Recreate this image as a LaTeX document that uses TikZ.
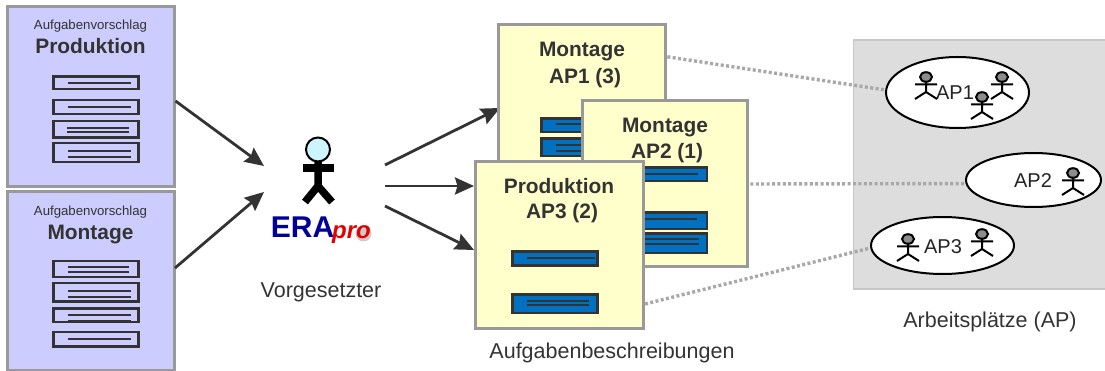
\documentclass[tikz,border=0pt]{standalone}
\usepackage{fontspec}
\setmainfont{Liberation Sans}
\usetikzlibrary{arrows.meta,shapes.geometric}
\definecolor{txt}{HTML}{333333}
\definecolor{edge}{HTML}{999999}
\definecolor{lilac}{HTML}{CCCCFF}
\definecolor{cream}{HTML}{FFFFCC}
\definecolor{barblue}{HTML}{0070C0}
\definecolor{panel}{HTML}{DDDDDD}
\tikzset{
  card/.style={draw=edge,line width=3pt,rectangle,inner sep=0pt},
  lilaccard/.style={card,fill=lilac},
  creamcard/.style={card,fill=cream},
  rowbox/.style={draw=txt,line width=2.6pt},
  rowline/.style={draw=txt,line width=2pt},
  bluebox/.style={draw=txt,line width=2.6pt,fill=barblue},
  flow/.style={draw=txt,line width=2.8pt,-{Stealth[length=19pt,width=17pt,inset=2.5pt]}},
  link/.style={draw=edge!85,line width=3.4pt,dash pattern=on 3pt off 2.4pt},
  small/.style={anchor=base,inner sep=0pt,text=txt,font=\fontsize{13.2}{15}\selectfont},
  head/.style={anchor=base,inner sep=0pt,text=txt,align=center,font=\fontsize{20.9}{24}\selectfont\bfseries},
  label/.style={anchor=base,inner sep=0pt,text=txt,font=\fontsize{21.5}{24}\selectfont},
  place/.style={draw=black,line width=2pt,fill=white,ellipse,inner sep=0pt},
  aplabel/.style={anchor=base,inner sep=0pt,text=txt!70!black,font=\fontsize{20}{24}\selectfont},
  actor/.pic={
    \draw[black,line width=2pt,fill=gray!90] (0,0) ellipse (6pt and 4.8pt);
    \draw[black,line width=2pt] (-11,7.3) -- (11,7.3) (0,4.5) -- (0,15) (-11,22) -- (0,15) -- (11,22);
  }
}
\begin{document}
\begin{tikzpicture}[x=1pt,y=-1pt]
\useasboundingbox (0,0) rectangle (1105,371);

% left cards
\node[lilaccard,minimum width=167pt,minimum height=180pt] (prod) at (91,96.5) {};
\node[small] (prodA) at (90.5,30) {Aufgabenvorschlag};
\node[head] (prodB) at (90.5,54) {Produktion};
\draw[rowbox] (53.5,76.5) rectangle (138.5,89); \draw[rowline] (68,83) -- (131,83);
\draw[rowbox] (53.5,100) rectangle (138.5,114); \draw[rowline] (68,107) -- (131,107);
\draw[rowbox] (53.5,121) rectangle (138.5,137.5); \draw[rowline] (67,127.7) -- (129,127.7) (67,132) -- (129,132);
\draw[rowbox] (53.5,143) rectangle (138.5,162); \draw[rowline] (68,151) -- (131,151) (68,157) -- (131,157);

\node[lilaccard,minimum width=167pt,minimum height=178pt] (mont) at (91,281) {};
\node[small] (montA) at (90.5,216) {Aufgabenvorschlag};
\node[head] (montB) at (90.5,240) {Montage};
\draw[rowbox] (53.5,261) rectangle (138.5,277); \draw[rowline] (68,267) -- (129,267) (68,272) -- (129,272);
\draw[rowbox] (53.5,283) rectangle (138.5,301.5); \draw[rowline] (68,291) -- (131,291) (68,297) -- (131,297);
\draw[rowbox] (53.5,308.5) rectangle (138.5,322); \draw[rowline] (68,315) -- (131,315) (68,321) -- (131,321);
\draw[rowbox] (53.5,332) rectangle (138.5,346.5); \draw[rowline] (68,339) -- (131,339);

% supervisor
\draw[black,line width=2pt,fill=blue!20!cyan!20] (318,149.5) circle (12pt);
\fill[black] (303,164) rectangle (334,172);
\draw[black,line width=7.5pt] (318,161) -- (318,186) (305,202) -- (318,186) -- (332,202);
\fill[gray!40] (363.5,233.5) circle (8pt);
\node[anchor=base,inner sep=0pt,text=blue!60!black,font=\fontsize{30}{32}\selectfont\bfseries] (era) at (302.5,238) {ERA};
\node[anchor=base,inner sep=0pt,text=red!90!black,font=\fontsize{24}{26}\selectfont\bfseries\itshape] (pro) at (351.5,238.5) {pro};
\node[label] (sup) at (321,298) {Vorgesetzter};

% free arrow ends
\coordinate (in1) at (264,166);
\coordinate (in2) at (264,192);
\coordinate (out1) at (385,165);
\coordinate (out2) at (385,186);
\coordinate (out3) at (385,206);
\coordinate (tip1) at (500,108);
\coordinate (tip2) at (474,186);
\coordinate (tip3) at (474,250);
\coordinate (prodS) at (175.5,101);
\coordinate (montS) at (175,268);
\draw[flow] (prodS) -- (in1);
\draw[flow] (montS) -- (in2);
\draw[flow] (out1) -- (tip1);
\draw[flow] (out2) -- (tip2);
\draw[flow] (out3) -- (tip3);

% workplace panel
\node[draw=panel!90!black,line width=1.6pt,fill=panel,rectangle,inner sep=0pt,minimum width=253pt,minimum height=249pt] (pan) at (980,164.5) {};
\node[label] (panL) at (990,327) {Arbeitsplätze (AP)};
\node[place,minimum width=143pt,minimum height=71pt] (ap1) at (957.5,92.5) {};
\node[place,minimum width=135pt,minimum height=54pt] (ap2) at (1033.5,180) {};
\node[place,minimum width=143pt,minimum height=57pt] (ap3) at (942.5,245.5) {};

% dotted links
\coordinate (c1) at (662,56);
\coordinate (c2) at (745,184);
\coordinate (c3) at (645,304);
\draw[link] (c1) -- (ap1.178);
\draw[link] (c2) -- (ap2.183.4);
\draw[link] (c3) -- (ap3.182);

% task cards
\node[creamcard,minimum width=167pt,minimum height=170pt] (t1) at (581.5,110) {};
\node[head] (t1a) at (582,57) {Montage};
\node[head] (t1b) at (585,84) {AP1 (3)};
\draw[bluebox] (541.5,118.5) rectangle (627,132); \draw[rowline] (556,124) -- (625,124);
\draw[bluebox] (541.5,138.5) rectangle (627,156); \draw[rowline] (556,145) -- (625,145) (556,151) -- (625,151);

\node[creamcard,minimum width=165pt,minimum height=166pt] (t2) at (664.5,184) {};
\node[head] (t2a) at (665,133) {Montage};
\node[head] (t2b) at (667,159) {AP2 (1)};
\draw[bluebox] (621,167.5) rectangle (707,181); \draw[rowline] (630,174) -- (698,174);
\draw[bluebox] (621,212.5) rectangle (707,229); \draw[rowline] (630,219) -- (697,219);
\draw[bluebox] (621,233.5) rectangle (707,253); \draw[rowline] (630,239) -- (699,239) (630,244) -- (699,244);

\node[creamcard,minimum width=168pt,minimum height=166pt] (t3) at (559,245) {};
\node[head] (t3a) at (559,194) {Produktion};
\node[head] (t3b) at (562,219) {AP3 (2)};
\draw[bluebox] (512.5,251.5) rectangle (597.5,265.5); \draw[rowline] (527,258) -- (595,258);
\draw[bluebox] (512.5,294.5) rectangle (597.5,313); \draw[rowline] (527,301) -- (589,301) (527,305) -- (589,305);
\node[label] (tasks) at (612,358) {Aufgabenbeschreibungen};

% workplace labels and people
\node[aplabel] (ap1l) at (955,100) {AP1};
\node[aplabel] (ap2l) at (1033,188) {AP2};
\node[aplabel] (ap3l) at (943,254) {AP3};
\pic at (926,77) {actor};
\pic at (1002,77) {actor};
\pic at (982,97) {actor};
\pic at (1073,173) {actor};
\pic at (908,239) {actor};
\pic at (982,234) {actor};
\end{tikzpicture}
\end{document}
